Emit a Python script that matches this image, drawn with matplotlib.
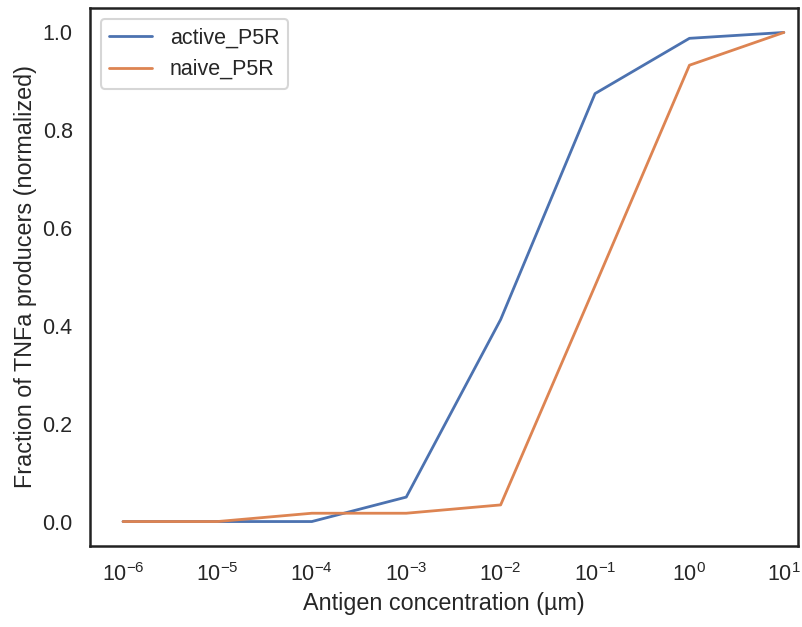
import matplotlib
matplotlib.use("Agg")
import matplotlib.pyplot as plt
import seaborn as sns

# Concentrações de antígeno e frações normalizadas
conc = [1e-6, 1e-5, 1e-4, 1e-3, 1e-2, 1e-1, 1e0, 1e1]
active_p5r = [0.0, 0.0, 0.0, 0.05, 0.413, 0.875, 0.988, 1.0]
naive_p5r = [0.0, 0.0, 0.017, 0.017, 0.034, 0.482, 0.933, 1.0]

sns.set_theme(style="white", context="talk")
plt.rcParams["font.family"] = ["Liberation Sans", "DejaVu Sans"]
plt.rcParams["mathtext.fontset"] = "custom"
plt.rcParams["mathtext.rm"] = "Liberation Sans"
plt.rcParams["mathtext.it"] = "Liberation Sans:italic"
plt.rcParams["mathtext.bf"] = "Liberation Sans:bold"

fig = plt.figure(figsize=(8.02, 6.27), dpi=100)
ax = fig.add_axes([90 / 802, 81 / 627, 708 / 802, 538 / 627])

pal = sns.color_palette("deep")
ax.plot(conc, active_p5r, color=pal[0], lw=2, label="active_P5R")
ax.plot(conc, naive_p5r, color=pal[1], lw=2, label="naive_P5R")

ax.set_xscale("log")
ax.set_xlim(10 ** -6.35, 10 ** 1.15)
ax.set_ylim(-0.05, 1.05)
ax.set_xticks(conc)
ax.minorticks_off()
ax.set_yticks([0.0, 0.2, 0.4, 0.6, 0.8, 1.0])
ax.tick_params(labelsize=15.5)

for s in ax.spines.values():
    s.set_color("#222222")
    s.set_linewidth(1.8)

ax.set_xlabel("Antigen concentration (µm)", fontsize=16.8)
ax.set_ylabel("Fraction of TNFa producers (normalized)", fontsize=16.8)
ax.legend(loc="upper left", fontsize=15.5)

fig.savefig("out.png")
